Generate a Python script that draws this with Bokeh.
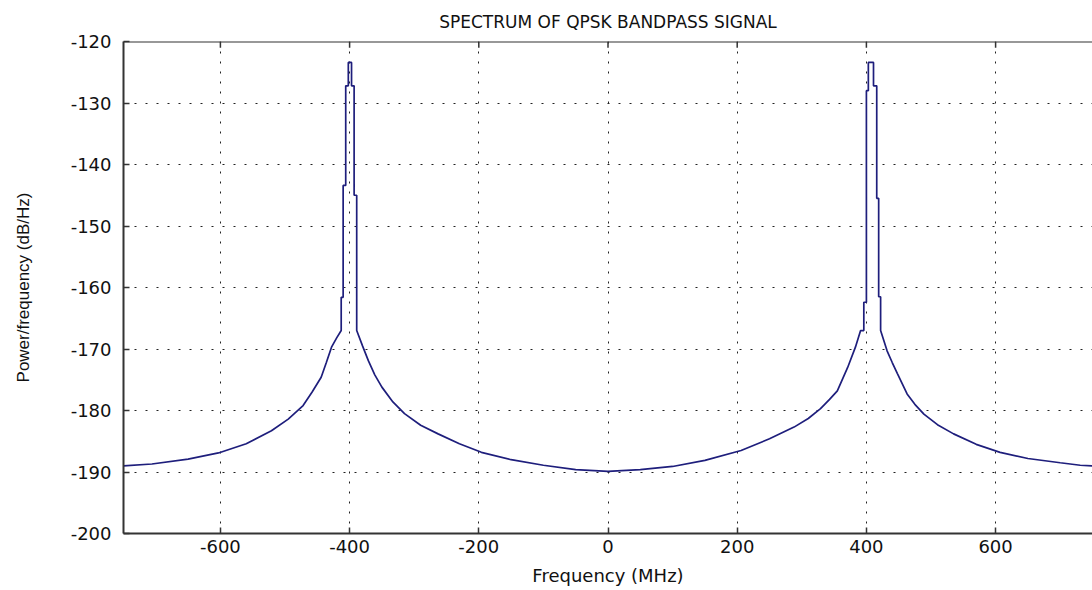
from bokeh.plotting import figure
from bokeh.models import Range1d, FixedTicker, Span
from bokeh.embed import file_html
from bokeh.resources import INLINE

# Frequency (MHz) and PSD (dB/Hz)
freq_mhz = [
    -750, -706, -650, -603, -560, -521, -495, -472, -458, -444, -436, -428, -420, -413,
    -413, -410, -410, -406, -406, -402, -402, -397, -397, -393, -393, -389, -389,
    -380, -371, -361, -350, -333, -315, -290, -263, -230, -196, -150, -100, -50,
    0, 50, 100, 150, 206, 250, 288, 310, 329, 343, 355, 371, 383, 391,
    396, 396, 400, 400, 403, 403, 411, 411, 416, 416, 419, 419, 422, 422,
    432, 440, 448, 463, 475, 489, 510, 535, 570, 607, 650, 700, 731, 750,
]
psd_db = [
    -189.0, -188.7, -187.9, -186.9, -185.4, -183.3, -181.4, -179.2, -177.0, -174.6, -172.2, -169.7, -168.2, -167.0,
    -161.6, -161.6, -143.4, -143.4, -127.2, -127.2, -123.4, -123.4, -127.2, -127.2, -145.0, -145.0, -167.0,
    -169.5, -171.9, -174.2, -176.2, -178.6, -180.5, -182.4, -183.8, -185.4, -186.8, -188.0, -188.9, -189.6,
    -189.9, -189.6, -189.1, -188.1, -186.5, -184.6, -182.7, -181.3, -179.7, -178.2, -176.8, -173.0, -169.7, -167.0,
    -167.0, -162.4, -162.4, -128.0, -128.0, -123.4, -123.4, -127.2, -127.2, -145.5, -145.5, -161.5, -161.5, -167.0,
    -170.3, -172.2, -174.0, -177.3, -179.0, -180.6, -182.3, -183.8, -185.5, -186.8, -187.8, -188.5, -188.9, -189.0,
]

x_ticks = [-600, -400, -200, 0, 200, 400, 600]
y_ticks = [-200, -190, -180, -170, -160, -150, -140, -130, -120]
x_tick_labels = {t: str(t) for t in x_ticks}
y_tick_labels = {t: str(t) for t in y_ticks}

title_text = "SPECTRUM OF QPSK BANDPASS SIGNAL"
x_label = "Frequency (MHz)"
y_label = "Power/frequency (dB/Hz)"

x_lo, x_hi = -750, 750
y_lo, y_hi = y_ticks[0], y_ticks[-1]

p = figure(width=1092, height=590, output_backend="svg", toolbar_location=None,
           x_range=Range1d(x_lo, x_hi), y_range=Range1d(y_lo, y_hi),
           min_border_left=123, min_border_right=0, min_border_top=41, min_border_bottom=57)
p.outline_line_color = None
p.background_fill_color = "white"
p.border_fill_color = "white"

p.title.text = title_text
p.title.align = "center"
p.title.text_font = "DejaVu Sans"
p.title.text_font_size = "17px"
p.title.text_font_style = "normal"
p.title.text_color = "#111111"
p.title.standoff = 19

for ax in (p.xaxis[0], p.yaxis[0]):
    ax.axis_line_color = "#333333"
    ax.axis_line_width = 2
    ax.major_tick_line_color = "#333333"
    ax.major_tick_line_width = 1.5
    ax.major_tick_in = 6
    ax.major_tick_out = 0
    ax.minor_tick_line_color = None
    ax.major_label_text_font = "DejaVu Sans"
    ax.major_label_text_font_size = "18px"
    ax.major_label_text_color = "#111111"

p.xaxis.ticker = FixedTicker(ticks=x_ticks)
p.yaxis.ticker = FixedTicker(ticks=y_ticks)
p.xaxis.major_label_overrides = x_tick_labels
p.yaxis.major_label_overrides = y_tick_labels
p.xaxis.major_label_standoff = 6
p.yaxis.major_label_standoff = 12

p.xaxis.axis_label = x_label
p.xaxis.axis_label_text_font = "DejaVu Sans"
p.xaxis.axis_label_text_font_size = "18px"
p.xaxis.axis_label_text_font_style = "normal"
p.xaxis.axis_label_text_color = "#111111"
p.xaxis.axis_label_standoff = 9

p.yaxis.axis_label = y_label
p.yaxis.axis_label_text_font = "Liberation Sans"
p.yaxis.axis_label_text_font_size = "17px"
p.yaxis.axis_label_text_font_style = "normal"
p.yaxis.axis_label_text_color = "#111111"
p.yaxis.axis_label_standoff = 35

# top frame line with inward ticks
p.add_layout(Span(location=y_hi, dimension="width", line_color="#333333", line_width=2))
p.segment(x0=x_ticks, y0=[y_hi] * len(x_ticks), x1=x_ticks, y1=[y_hi - 1] * len(x_ticks),
          line_color="#333333", line_width=1.5)

p.xgrid.ticker = FixedTicker(ticks=x_ticks)
p.ygrid.ticker = FixedTicker(ticks=y_ticks)
p.xgrid.grid_line_color = "#222222"
p.xgrid.grid_line_dash = "2 8"
p.xgrid.grid_line_width = 1
p.ygrid.grid_line_color = "#222222"
p.ygrid.grid_line_dash = "2 9"
p.ygrid.grid_line_width = 1

p.line(freq_mhz, psd_db, line_color="#1e1e7c", line_width=1.7)

open("out.html", "w").write(file_html(p, INLINE))
